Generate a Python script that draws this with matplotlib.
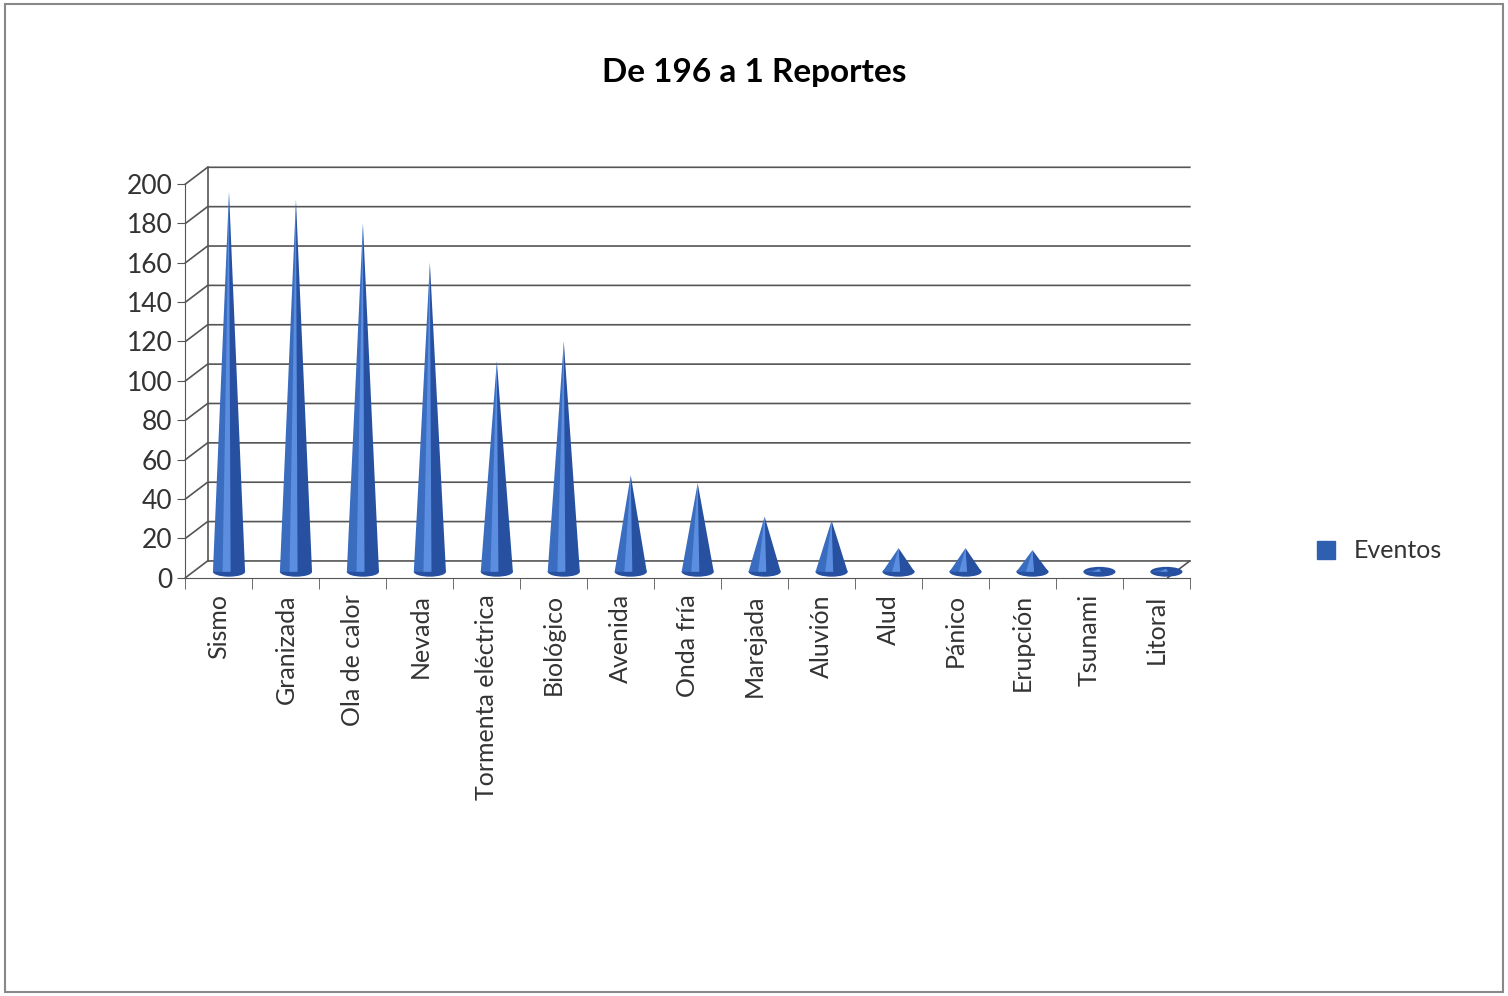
import matplotlib
matplotlib.use("Agg")
import matplotlib.pyplot as plt
from matplotlib.patches import Rectangle, Polygon, Ellipse
from matplotlib.lines import Line2D

plt.rcParams["font.family"] = ["Lato", "DejaVu Sans"]

categories = ["Sismo", "Granizada", "Ola de calor", "Nevada", "Tormenta eléctrica",
              "Biológico", "Avenida", "Onda fría", "Marejada", "Aluvión", "Alud",
              "Pánico", "Erupción", "Tsunami", "Litoral"]
values = [196, 192, 180, 160, 110, 120, 52, 48, 31, 29, 15, 15, 14, 2, 1]
yticks = list(range(0, 201, 20))

fig = plt.figure(figsize=(15.08, 9.96), dpi=100)
fig.patches.append(Rectangle((0.003, 0.004), 0.994, 0.992, transform=fig.transFigure,
                             fill=False, edgecolor="#888888", lw=1.5))
ax = fig.add_axes([0.123, 0.42, 0.666, 0.415])
n = len(categories)
ax.set_xlim(-0.5, n - 0.5)
ax.set_ylim(0, 210)
dx, dy = 0.33, 8.5
for v in yticks:
    ax.plot([-0.5, -0.5 + dx, n - 0.5], [v, v + dy, v + dy], color="#555555", lw=1.2,
            clip_on=False, zorder=1)
ax.plot([-0.5 + dx, -0.5 + dx], [dy, 200 + dy], color="#555555", lw=1.2, zorder=1)
ax.plot([n - 0.5, n - 0.5 - dx], [dy, 0], color="#555555", lw=1.2, clip_on=False, zorder=1)
for i, v in enumerate(values):
    cx = i + 0.15
    w = 0.24
    base = 3
    top = max(v, base + 1.5)
    ax.add_patch(Ellipse((cx, base), 2 * w, 5, facecolor="#2850a0", edgecolor="none", zorder=3))
    ax.add_patch(Polygon([(cx - w, base), (cx, top), (cx, base)], closed=True,
                         facecolor="#3a6cc0", edgecolor="none", zorder=3))
    ax.add_patch(Polygon([(cx, base), (cx, top), (cx + w, base)], closed=True,
                         facecolor="#2850a0", edgecolor="none", zorder=3))
    ax.add_patch(Polygon([(cx - w * 0.4, base), (cx, top), (cx + w * 0.1, base)], closed=True,
                         facecolor="#5b8ee0", edgecolor="none", zorder=4))
ax.set_xticks([i + 0.0 for i in range(n)])
ax.set_xticklabels(categories, rotation=90, fontsize=18, color="#333333")
ax.set_xticks([i - 0.5 for i in range(n + 1)], minor=True)
ax.tick_params(axis="x", which="major", length=0, pad=12)
ax.tick_params(axis="x", which="minor", length=8, color="#555555")
ax.set_yticks(yticks)
ax.set_yticklabels([str(t) for t in yticks], fontsize=19, color="#333333")
ax.tick_params(axis="y", length=6, color="#555555")
for s in ["top", "right"]:
    ax.spines[s].set_visible(False)
for s in ["left", "bottom"]:
    ax.spines[s].set_color("#555555")
ax.spines["left"].set_bounds(0, 200)
ax.patch.set_alpha(0)
fig.text(0.5, 0.927, "De 196 a 1 Reportes", ha="center", va="center", fontsize=24,
         fontweight="bold")
fig.legend(handles=[Line2D([], [], marker="s", ls="none", markersize=13, color="#2f5fb0")],
           labels=["Eventos"], loc="center left", bbox_to_anchor=(0.848, 0.447),
           frameon=False, fontsize=18, handletextpad=0.1, labelcolor="#333333")
fig.savefig("out.png", dpi=100)
